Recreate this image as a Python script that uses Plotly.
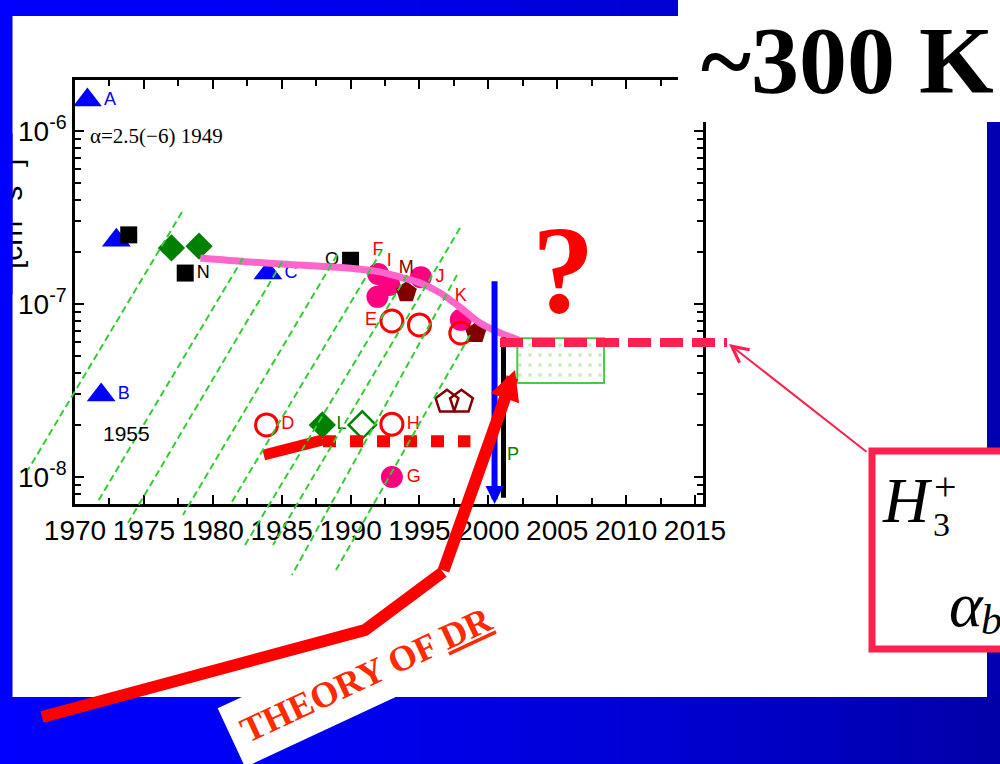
import numpy as np
import plotly.graph_objects as go

W, H = 1000, 764
SANS = "Liberation Sans, Arial, sans-serif"
SERIF = "Liberation Serif, Times New Roman, serif"

# ---------------- measured rate coefficients (cm^3 s^-1) ----------------
tri_year = [1970.9, 1971.9, 1973.0, 1984.0]
tri_rate = [1.51e-6, 2.98e-8, 2.34e-7, 1.51e-7]
tri_label = ["A", "B", "", "C"]

sq_year = [1973.9, 1978.0, 1990.0]
sq_rate = [2.51e-7, 1.51e-7, 1.79e-7]
sq_label = ["", "N", "O"]

dia_year = [1977.0, 1979.0, 1987.95]
dia_rate = [2.11e-7, 2.16e-7, 2.0e-8]
dia_label = ["", "", "L"]

odia_year = [1990.85]
odia_rate = [2.0e-8]

fcirc_year = [1992.0, 1991.95, 1992.8, 1995.1, 1998.0, 1993.0]
fcirc_rate = [1.49e-7, 1.10e-7, 1.29e-7, 1.43e-7, 8.1e-8, 1.0e-8]
fcirc_label = ["F", "", "I", "J", "K", "G"]

ocirc_year = [1993.0, 1995.0, 1998.0, 1983.9, 1993.0]
ocirc_rate = [7.98e-8, 7.57e-8, 6.8e-8, 2.0e-8, 2.02e-8]
ocirc_label = ["E", "", "", "D", "H"]

pent_year = [1994.05, 1999.1]
pent_rate = [1.17e-7, 6.8e-8]
pent_label = ["M", ""]

opent_year = [1997.0, 1998.05]
opent_rate = [2.72e-8, 2.72e-8]

# trend through the storage-ring era
curve_year = [1979.1, 1982.7, 1986.35, 1990.0, 1992.2, 1993.6, 1995.1,
              1996.5, 1998.0, 1999.4, 2000.9, 2002.2]
curve_rate = [1.845e-7, 1.75e-7, 1.68e-7, 1.61e-7, 1.53e-7, 1.43e-7, 1.32e-7,
              1.16e-7, 9.5e-8, 7.76e-8, 6.79e-8, 6.19e-8]

# theory values
theory_year = [1983.7, 1988.0]
theory_rate = [1.34e-8, 1.64e-8]
theory_dot_year = [1988.0, 1998.7]
theory_dot_rate = [1.61e-8, 1.61e-8]

# upper limits / recent results
limit_year = 2000.45
limit_rate = [1.38e-7, 6.98e-9]
black_year = 2001.1
black_rate = [6.4e-8, 7.6e-9]
box_year = [2002.1, 2008.4]
box_rate = [3.49e-8, 6.35e-8]
level_rate = 6.0e-8
p_year, p_rate = 2001.8, 1.35e-8

x_ticks = list(range(1970, 2016, 5))
y_ticks = [1e-8, 1e-7, 1e-6]
y_ticktext = ["10<sup>-8</sup>", "10<sup>-7</sup>", "10<sup>-6</sup>"]
y_minor = [m * 10.0 ** e for e in (-9, -8, -7, -6) for m in range(2, 10)]

# ---------------- slide decoration geometry (pixels) ----------------
HATCH = [
    (182, 212, 28, 470),
    (243, 258, 97, 503),
    (282, 262, 128, 523),
    (337, 255, 183, 515),
    (382, 250, 230, 505),
    (407, 275, 245, 545),
    (460, 228, 273, 545),
    (457, 275, 292, 575),
    (470, 335, 336, 570),
]
DR_PATH = [(42, 717), (365, 630), (443, 572)]
DR_TIP = (515, 370)


def px(x):
    return x / W


def py(y):
    return 1 - y / H


def note(text, x, y, **kw):
    d = dict(text=text, xref="paper", yref="paper", x=px(x), y=py(y),
             xanchor="center", yanchor="middle", showarrow=False)
    d.update(kw)
    return d


fig = go.Figure()

C_BLUE, C_GREEN, C_RED, C_MAG, C_MAROON = "#0000FF", "#008000", "#FF0000", "#FF0080", "#800000"
LBL = dict(family=SANS, size=18)

fig.add_trace(go.Scatter(x=tri_year, y=tri_rate, mode="markers+text", text=tri_label,
                         textposition="middle right", textfont=dict(LBL, color=C_BLUE),
                         marker=dict(symbol="triangle-up", size=25, color=C_BLUE)))
fig.add_trace(go.Scatter(x=sq_year, y=sq_rate, mode="markers+text", text=sq_label,
                         textposition=["middle right", "middle right", "middle left"],
                         textfont=dict(LBL, color="black"),
                         marker=dict(symbol="square", size=17, color="black")))
fig.add_trace(go.Scatter(x=dia_year, y=dia_rate, mode="markers+text", text=dia_label,
                         textposition="middle right", textfont=dict(LBL, color=C_GREEN),
                         marker=dict(symbol="diamond", size=21, color=C_GREEN)))
fig.add_trace(go.Scatter(x=odia_year, y=odia_rate, mode="markers",
                         marker=dict(symbol="diamond-open", size=21, color=C_GREEN,
                                     line=dict(width=2.5, color=C_GREEN))))
fig.add_trace(go.Scatter(x=fcirc_year, y=fcirc_rate, mode="markers+text", text=fcirc_label,
                         textposition=["top center", "middle right", "top center",
                                       "middle right", "top center", "middle right"],
                         textfont=dict(LBL, color=C_RED),
                         marker=dict(symbol="circle", size=22, color=C_MAG)))
fig.add_trace(go.Scatter(x=ocirc_year, y=ocirc_rate, mode="markers+text", text=ocirc_label,
                         textposition=["middle left", "middle right", "middle right",
                                       "middle right", "middle right"],
                         textfont=dict(LBL, color=C_RED),
                         marker=dict(symbol="circle-open", size=22, color=C_RED,
                                     line=dict(width=3, color=C_RED))))
fig.add_trace(go.Scatter(x=pent_year, y=pent_rate, mode="markers+text", text=pent_label,
                         textposition="top center", textfont=dict(LBL, color=C_MAROON),
                         marker=dict(symbol="pentagon", size=22, color=C_MAROON)))
fig.add_trace(go.Scatter(x=opent_year, y=opent_rate, mode="markers",
                         marker=dict(symbol="pentagon-open", size=24, color=C_MAROON,
                                     line=dict(width=2.5, color=C_MAROON))))

# trend curve
fig.add_trace(go.Scatter(x=curve_year, y=curve_rate, mode="lines",
                         line=dict(color="#FF66CC", width=7, shape="spline", smoothing=1)))
# theory
fig.add_trace(go.Scatter(x=theory_year, y=theory_rate, mode="lines",
                         line=dict(color=C_RED, width=11)))
fig.add_trace(go.Scatter(x=theory_dot_year, y=theory_dot_rate, mode="lines",
                         line=dict(color=C_RED, width=12, dash="13px,14px")))
# black limit line
fig.add_trace(go.Scatter(x=[black_year, black_year], y=black_rate, mode="lines",
                         line=dict(color="black", width=5)))
# green result box
fig.add_trace(go.Scatter(
    x=[box_year[0], box_year[1], box_year[1], box_year[0], box_year[0]],
    y=[box_rate[1], box_rate[1], box_rate[0], box_rate[0], box_rate[1]],
    mode="lines", fill="toself", fillcolor="white",
    fillpattern=dict(shape=".", fgcolor="#9ADB7A", bgcolor="white", size=10, solidity=0.12),
    line=dict(color="#44CC44", width=2)))

shapes = []
# slide background: blue frame with gradient and white panel
n = 50
for i in range(n):
    x0, x1 = i * W / n, (i + 1) * W / n
    t = (x0 + x1) / 2 / W
    b = int(252 - 85 * t ** 1.7)
    shapes.append(dict(type="rect", xref="paper", yref="paper", layer="below",
                       x0=px(x0), x1=px(x1) + 0.002, y0=0, y1=py(696),
                       fillcolor=f"rgb(0,0,{b})", line_width=0))
    if x0 < 680:
        shapes.append(dict(type="rect", xref="paper", yref="paper", layer="below",
                           x0=px(x0), x1=px(x1) + 0.002, y0=py(17), y1=1,
                           fillcolor=f"rgb(0,0,{b})", line_width=0))
shapes.append(dict(type="rect", xref="paper", yref="paper", layer="below",
                   x0=0, x1=px(12.5), y0=0, y1=1, fillcolor="#0000FF", line_width=0))
shapes.append(dict(type="rect", xref="paper", yref="paper", layer="below",
                   x0=px(987), x1=1, y0=py(697), y1=py(122), fillcolor="#0000B0", line_width=0))
shapes.append(dict(type="rect", xref="paper", yref="paper", layer="below",
                   x0=px(12.5), x1=px(987), y0=py(697), y1=py(16),
                   fillcolor="white", line_width=0))

# DR theory arrow body
path = "M " + " L ".join(f"{px(x):.5f},{py(y):.5f}" for x, y in DR_PATH)
shapes.append(dict(type="path", xref="paper", yref="paper", layer="above", path=path,
                   line=dict(color=C_RED, width=12)))
# hatch lines
for xt, yt, xb, yb in HATCH:
    shapes.append(dict(type="line", xref="paper", yref="paper", layer="above",
                       x0=px(xt), y0=py(yt), x1=px(xb), y1=py(yb),
                       line=dict(color="#33CC33", width=2, dash="7px,4px")))
# reference level
shapes.append(dict(type="line", xref="paper", yref="y", layer="above",
                   x0=px(500), x1=px(727), y0=level_rate, y1=level_rate,
                   line=dict(color="#FF2050", width=9, dash="23px,9px")))
# title panel and H3+ panel
shapes.append(dict(type="rect", xref="paper", yref="paper", layer="above",
                   x0=px(678), x1=1.01, y0=py(122), y1=1.01, fillcolor="white", line_width=0))
shapes.append(dict(type="rect", xref="paper", yref="paper", layer="above",
                   x0=px(872), x1=px(1010), y0=py(649), y1=py(451), fillcolor="white",
                   line=dict(color="#FF2050", width=7)))

ann = []
ann.append(note("[cm<sup>3</sup> s<sup>-1</sup>]", 9, 214, textangle=-90,
                font=dict(family=SANS, size=30, color="black")))
ann.append(note(" ", 6, 214, width=12, height=160, bgcolor="#0000FF", borderpad=0))
ann.append(note("\u03b1=2.5(\u22126) 1949", 156, 136,
                font=dict(family=SERIF, size=21, color="black")))
ann.append(note("1955", 126, 433, font=dict(family=SANS, size=21, color="black")))
ann.append(dict(text="P", x=p_year, y=np.log10(p_rate), xref="x", yref="y",
                xanchor="center", yanchor="middle",
                showarrow=False, font=dict(family=SANS, size=18, color=C_GREEN)))
# upper-limit arrow
ann.append(dict(text="", x=limit_year, y=np.log10(limit_rate[1]), xref="x", yref="y",
                ax=limit_year, ay=np.log10(limit_rate[0]), axref="x", ayref="y",
                showarrow=True, arrowhead=2, arrowwidth=6, arrowsize=0.6, arrowcolor=C_BLUE,
                standoff=0))
# DR arrow head segment
ann.append(dict(text="", xref="paper", yref="paper", x=px(DR_TIP[0]), y=py(DR_TIP[1]),
                ax=DR_PATH[-1][0] - DR_TIP[0], ay=DR_PATH[-1][1] - DR_TIP[1],
                showarrow=True, arrowhead=2, arrowwidth=12, arrowsize=0.5, arrowcolor=C_RED,
                standoff=0))
ann.append(note("THEORY OF <u>DR</u>", 366, 675, textangle=-25, bgcolor="white", borderpad=12,
                font=dict(family=SERIF, size=36, color="#FF2A00", weight="bold")))
ann.append(note("?", 563, 270, font=dict(family=SERIF, size=125, color=C_RED, weight="bold")))
ann.append(note("~300 K", 847, 60, font=dict(family=SERIF, size=96, color="black", weight="bold")))
# pointer to the H3+ panel
ann.append(dict(text="", xref="paper", yref="paper", x=px(729), y=py(344),
                ax=868 - 729, ay=453 - 344, showarrow=True, arrowhead=5, arrowwidth=2,
                arrowsize=1.6, arrowcolor="#FF2050", standoff=0))
ann.append(note("<i>H</i>", 907, 500, font=dict(family=SERIF, size=64, color="black")))
ann.append(note("+", 945, 486, font=dict(family=SERIF, size=40, color="black")))
ann.append(note("3", 941, 524, font=dict(family=SERIF, size=34, color="black")))
ann.append(note("<i>\u03b1</i>", 966, 604, font=dict(family=SERIF, size=64, color="black")))
ann.append(note("<i>b</i>", 991, 620, font=dict(family=SERIF, size=42, color="black")))

fig.update_layout(
    width=W, height=H, margin=dict(l=0, r=0, t=0, b=0, autoexpand=False),
    paper_bgcolor="#0000F0", plot_bgcolor="white", showlegend=False,
    shapes=shapes, annotations=ann,
    xaxis=dict(domain=[75 / W, 703 / W], range=[1970, 2015.58], showgrid=False, zeroline=False,
               showline=True, linecolor="black", linewidth=2.5, mirror="ticks",
               ticks="inside", ticklen=9, tickwidth=2, tickcolor="black", automargin=False,
               tickvals=x_ticks, tickfont=dict(family=SANS, size=28, color="black"),
               minor=dict(ticks="inside", ticklen=6, tickwidth=2, tickcolor="black",
                          dtick=2.5, tick0=1970)),
    yaxis=dict(domain=[(H - 504) / H, (H - 80) / H], type="log", range=[-8.156, -5.705],
               showgrid=False, zeroline=False, showline=True, linecolor="black", linewidth=2.5,
               mirror="ticks", ticks="inside", ticklen=9, tickwidth=2, tickcolor="black",
               automargin=False, tickvals=y_ticks, ticktext=y_ticktext,
               tickfont=dict(family=SANS, size=28, color="black"),
               minor=dict(ticks="inside", ticklen=6, tickwidth=2, tickcolor="black",
                          tickvals=y_minor)),
)

fig.write_html("out.html")
